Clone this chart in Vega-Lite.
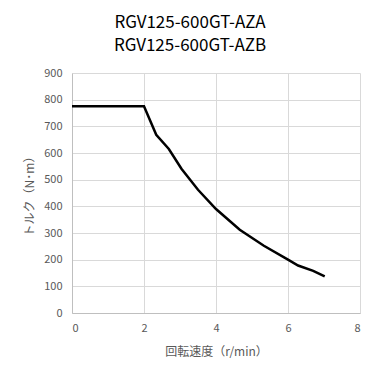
{
  "$schema": "https://vega.github.io/schema/vega-lite/v6.json",
  "width": 288,
  "height": 240,
  "autosize": {"type": "none"},
  "padding": {"left": 72, "top": 73, "right": 19, "bottom": 66},
  "background": "white",
  "title": {
    "text": ["RGV125-600GT-AZA", "RGV125-600GT-AZB"],
    "font": "Noto Sans CJK JP",
    "fontSize": 17,
    "fontWeight": "normal",
    "color": "#000000",
    "lineHeight": 23,
    "anchor": "middle",
    "frame": "group",
    "dx": -26,
    "offset": 12
  },
  "data": {
    "values": [
      {"speed": 0, "torque": 775},
      {"speed": 2.0, "torque": 775},
      {"speed": 2.34, "torque": 668},
      {"speed": 2.69, "torque": 615},
      {"speed": 3.04, "torque": 541},
      {"speed": 3.5, "torque": 462},
      {"speed": 4.0, "torque": 390},
      {"speed": 4.66, "torque": 312},
      {"speed": 5.33, "torque": 252},
      {"speed": 6.0, "torque": 200},
      {"speed": 6.28, "torque": 178},
      {"speed": 6.7, "torque": 158},
      {"speed": 7.02, "torque": 137}
    ]
  },
  "mark": {"type": "line", "color": "#000000", "strokeWidth": 2.5},
  "encoding": {
    "x": {
      "field": "speed",
      "type": "quantitative",
      "scale": {"domain": [0, 8], "nice": false},
      "axis": {
        "title": "回転速度（r/min）",
        "values": [0, 2, 4, 6, 8],
        "format": "d",
        "ticks": false,
        "labelPadding": 9,
        "titlePadding": 13
      }
    },
    "y": {
      "field": "torque",
      "type": "quantitative",
      "scale": {"domain": [0, 900], "nice": false},
      "axis": {
        "title": "トルク（N･m）",
        "values": [0, 100, 200, 300, 400, 500, 600, 700, 800, 900],
        "ticks": false,
        "labelPadding": 10,
        "titlePadding": 7
      }
    }
  },
  "config": {
    "view": {"stroke": null},
    "axis": {
      "labelFont": "Noto Sans CJK JP",
      "titleFont": "Noto Sans CJK JP",
      "labelFontSize": 11,
      "titleFontSize": 12,
      "titleFontWeight": "normal",
      "labelColor": "#595959",
      "titleColor": "#595959",
      "gridColor": "#d9d9d9",
      "gridWidth": 1,
      "domainColor": "#bfbfbf",
      "domainWidth": 1
    }
  }
}
